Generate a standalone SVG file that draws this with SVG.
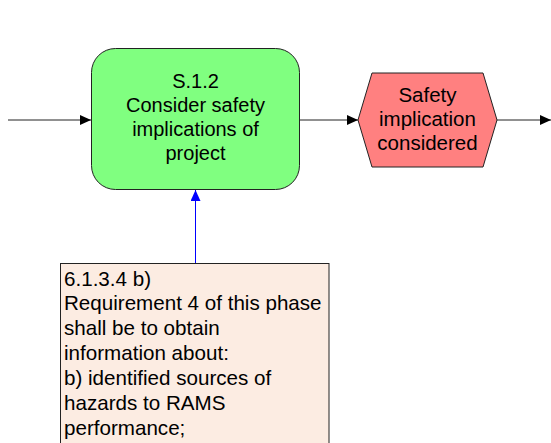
<svg xmlns="http://www.w3.org/2000/svg" width="551" height="443" viewBox="0 0 551 443">
  <style>
    .t { font-family: "Liberation Sans", Arial, sans-serif; fill: #000; }
    .c { text-anchor: middle; }
    .flow { stroke: #222; stroke-width: 1; fill: none; }
    .ref { stroke: #0000ff; stroke-width: 1; fill: none; }
  </style>
  <defs>
    <marker id="arrowBlack" markerWidth="11" markerHeight="10" refX="11" refY="5" orient="auto" markerUnits="userSpaceOnUse">
      <path d="M0,0 L11,5 L0,10 Z" fill="#000"/>
    </marker>
    <marker id="arrowBlue" markerWidth="11" markerHeight="10" refX="11" refY="5" orient="auto" markerUnits="userSpaceOnUse">
      <path d="M0,0 L11,5 L0,10 Z" fill="#0000ff"/>
    </marker>
  </defs>

  <!-- connectors -->
  <g id="connectors">
    <line class="flow" x1="8" y1="120" x2="91" y2="120" marker-end="url(#arrowBlack)"/>
    <line class="flow" x1="300" y1="120" x2="358" y2="120" marker-end="url(#arrowBlack)"/>
    <line class="flow" x1="497" y1="120" x2="551" y2="120" marker-end="url(#arrowBlack)"/>
    <line class="ref" x1="195.5" y1="263" x2="195.5" y2="190" marker-end="url(#arrowBlue)"/>
  </g>

  <!-- function: S.1.2 -->
  <g id="node-s12">
    <rect x="91.5" y="48.5" width="208" height="141" rx="24" ry="24" fill="#80ff80" stroke="#222" stroke-width="1"/>
    <text class="t c" font-size="20" x="195.5" y="88">S.1.2</text>
    <text class="t c" font-size="20" x="195.5" y="112">Consider safety</text>
    <text class="t c" font-size="20" x="195.5" y="136">implications of</text>
    <text class="t c" font-size="20" x="195.5" y="160">project</text>
  </g>

  <!-- event: safety implication considered -->
  <g id="node-event">
    <polygon points="358,120 372,73 483,73 497,120 483,167 372,167" fill="#ff8080" stroke="#222" stroke-width="1"/>
    <text class="t c" font-size="20.5" x="427.5" y="102">Safety</text>
    <text class="t c" font-size="20.5" x="427.5" y="126">implication</text>
    <text class="t c" font-size="20.5" x="427.5" y="150">considered</text>
  </g>

  <!-- requirement note -->
  <g id="node-note">
    <rect x="60.5" y="263.5" width="268.5" height="190" fill="#fcece2" stroke="#222" stroke-width="1"/>
    <text class="t" font-size="20.6" x="64" y="286">6.1.3.4 b)</text>
    <text class="t" font-size="20.6" x="64" y="310">Requirement 4 of this phase</text>
    <text class="t" font-size="20.6" x="64" y="335">shall be to obtain</text>
    <text class="t" font-size="20.6" x="64" y="360">information about:</text>
    <text class="t" font-size="20.6" x="64" y="385">b) identified sources of</text>
    <text class="t" font-size="20.6" x="64" y="410">hazards to RAMS</text>
    <text class="t" font-size="20.6" x="64" y="435">performance;</text>
  </g>
</svg>
